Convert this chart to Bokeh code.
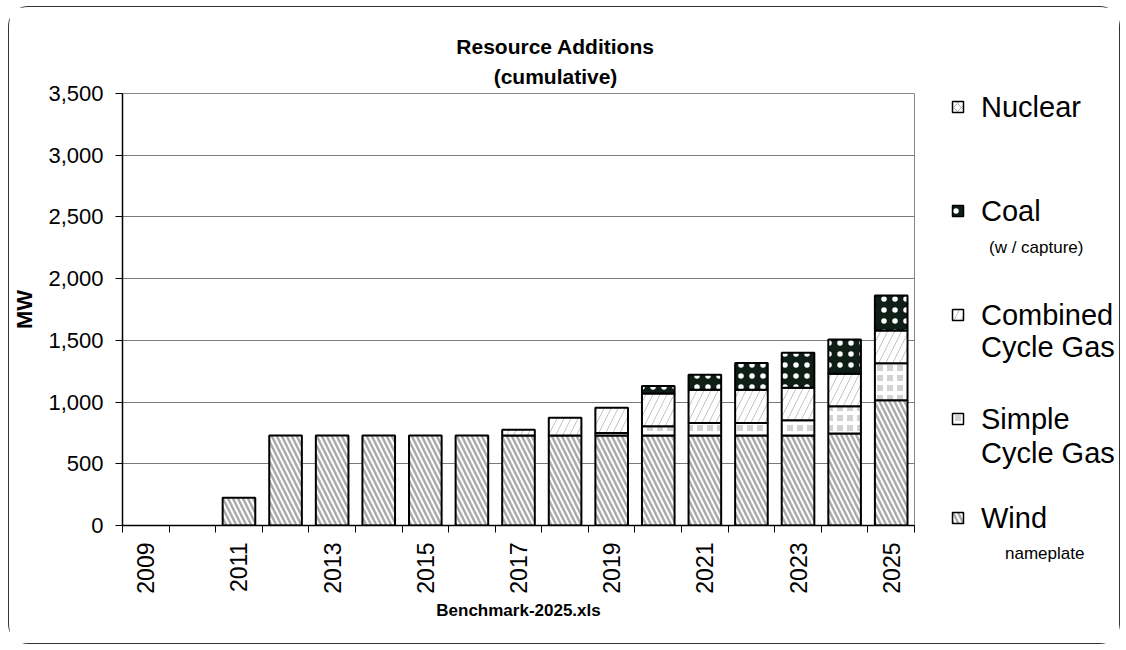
from bokeh.plotting import figure
from bokeh.models import (ColumnDataSource, FixedTicker, NumeralTickFormatter, Label, Range1d,
                          CDSView, BooleanFilter)
from bokeh.layouts import row
from bokeh.transform import stack
from bokeh.core.properties import value
from bokeh.embed import file_html
from bokeh.resources import INLINE
import math

years = list(range(2009, 2026))
wind = [0, 0, 225, 730, 730, 730, 730, 730, 730, 730, 730, 730, 730, 730, 730, 746, 1015]
simple_cycle = [0, 0, 0, 0, 0, 0, 0, 0, 0, 0, 20, 75, 100, 100, 123, 221, 300]
combined_cycle = [0, 0, 0, 0, 0, 0, 0, 0, 45, 143, 203, 265, 270, 270, 263, 262, 265]
coal = [0, 0, 0, 0, 0, 0, 0, 0, 0, 0, 0, 60, 122, 216, 283, 278, 283]
nuclear = [0] * 17
tick_years = [2009, 2011, 2013, 2015, 2017, 2019, 2021, 2023, 2025]
y_ticks = [0, 500, 1000, 1500, 2000, 2500, 3000, 3500]
series_keys = ["wind", "simple", "combined", "coal", "nuclear"]
legend_names = ["Nuclear", "Coal", "Combined", "Simple"]  # top to bottom (Wind below)
legend_keys = ["nuclear", "coal", "combined", "simple"]

data = dict(year=years, wind=wind, simple=simple_cycle,
            combined=combined_cycle, coal=coal, nuclear=nuclear)
src = ColumnDataSource(data)

FONT = "Liberation Sans"

styles = {
    "wind": dict(fill_color="white", hatch_pattern="\\", hatch_color="#ababab",
                 hatch_weight=2.5, hatch_scale=10),
    "simple": dict(fill_color="#d2d2d2", hatch_pattern="+", hatch_color="white",
                   hatch_weight=4, hatch_scale=10),
    "combined": dict(fill_color="white", hatch_pattern="/", hatch_color="#c4c4c4",
                     hatch_weight=1, hatch_scale=14),
    "coal": dict(fill_color="#0f1f17", hatch_pattern=".", hatch_color="white",
                 hatch_weight=0.5, hatch_scale=11),
    "nuclear": dict(fill_color="white", hatch_pattern="x", hatch_color="#aaaaaa",
                    hatch_weight=1, hatch_scale=8),
}

p = figure(width=906, height=636, frame_width=792, frame_height=432,
           min_border_left=111, min_border_top=86, min_border_right=3, min_border_bottom=118,
           x_range=Range1d(2008.5, 2025.5), y_range=Range1d(0, 3500),
           output_backend="svg", toolbar_location=None, background_fill_color="white",
           border_fill_color="white")
p.outline_line_color = "#888888"
p.outline_line_width = 1

for i, key in enumerate(series_keys):
    view = CDSView(filter=BooleanFilter([v > 0 for v in data[key]]))
    p.vbar(x="year", width=0.7, bottom=stack(*series_keys[:i]), top=stack(*series_keys[:i + 1]),
           source=src, view=view, line_color="black", line_width=2, **styles[key])

# axes
p.xaxis.ticker = FixedTicker(ticks=tick_years, minor_ticks=[y + 0.5 for y in range(2008, 2026)])
p.xaxis.major_tick_out = 0
p.xaxis.major_tick_in = 0
p.xaxis.minor_tick_out = 7
p.xaxis.minor_tick_in = 0
p.xaxis.minor_tick_line_color = "black"
p.xaxis.major_label_orientation = math.pi / 2
p.xaxis.major_label_text_font = FONT
p.xaxis.major_label_text_font_size = "23px"
p.xaxis.major_label_text_color = "black"
p.xaxis.major_label_standoff = 10
p.xaxis.axis_line_color = "black"
p.xaxis.axis_line_width = 1.5
p.xaxis.axis_label = "Benchmark-2025.xls"
p.xaxis.axis_label_text_font = FONT
p.xaxis.axis_label_text_font_style = "bold"
p.xaxis.axis_label_text_font_size = "17px"
p.xaxis.axis_label_text_color = "black"
p.xaxis.axis_label_standoff = 4

p.yaxis.ticker = FixedTicker(ticks=y_ticks)
p.yaxis.formatter = NumeralTickFormatter(format="0,0")
p.yaxis.minor_tick_line_color = None
p.yaxis.major_tick_out = 7
p.yaxis.major_tick_in = 0
p.yaxis.major_label_text_font = FONT
p.yaxis.major_label_text_font_size = "22px"
p.yaxis.major_label_text_color = "black"
p.yaxis.major_label_standoff = 12
p.yaxis.axis_line_color = "black"
p.yaxis.axis_line_width = 1.5
p.yaxis.axis_label = "MW"
p.yaxis.axis_label_text_font = FONT
p.yaxis.axis_label_text_font_style = "bold"
p.yaxis.axis_label_text_font_size = "22px"
p.yaxis.axis_label_text_color = "black"
p.yaxis.axis_label_standoff = 8

p.xgrid.grid_line_color = None
p.ygrid.grid_line_color = "#7a7a7a"
p.ygrid.grid_line_width = 1

# title (above panel)
p.add_layout(Label(x=433, y=32, x_units="screen", y_units="screen",
                   text="Resource Additions\n(cumulative)",
                   text_font=FONT, text_font_size="21px", text_font_style="bold",
                   text_align="center", text_baseline="middle", text_color="black",
                   text_line_height=1.32), "above")

# legend panel: separate figure whose frame is aligned with the main frame;
# its y range is set so data y equals page pixel rows
leg = figure(width=202, height=636, x_range=Range1d(0, 202), y_range=Range1d(525.5, 93.5),
             output_backend="svg", toolbar_location=None, min_border=0,
             x_axis_type=None, y_axis_type=None, background_fill_color="white",
             border_fill_color="white")
leg.outline_line_color = None
leg.grid.grid_line_color = None

row_ys = [107, 211, 315, 419]
for key, ly in zip(legend_keys, row_ys):
    leg.rect(x=[40.5], y=[ly], width=11, height=11, line_color="black", line_width=1.5,
             **styles[key])
leg.rect(x=[40.5], y=[518], width=11, height=11, line_color="black", line_width=1.5,
         **styles["wind"])
leg.text(x=[63.5] * len(legend_names), y=row_ys, text=legend_names,
         text_font=value(FONT), text_font_size="29px", text_baseline="middle",
         text_color="black")
leg.text(x=[63.5, 63.5], y=[347, 453], text=["Cycle Gas", "Cycle Gas"],
         text_font=value(FONT), text_font_size="29px", text_baseline="middle",
         text_color="black")
leg.text(x=[71.5], y=[247], text=["(w / capture)"],
         text_font=value(FONT), text_font_size="17px", text_baseline="middle",
         text_color="black")
leg.add_layout(Label(x=63.5, y=518, text="Wind", text_font=FONT, text_font_size="29px",
                     text_baseline="middle", text_color="black"), "below")
leg.add_layout(Label(x=87.5, y=553, text="nameplate", text_font=FONT, text_font_size="17px",
                     text_baseline="middle", text_color="black"), "below")

layout = row(p, leg, spacing=0)
layout.margin = (6, 0, 0, 8)
layout.styles = {"border": "1.5px solid #333", "border-radius": "20px",
                 "background-color": "white"}

open("out.html", "w").write(file_html(layout, INLINE))
